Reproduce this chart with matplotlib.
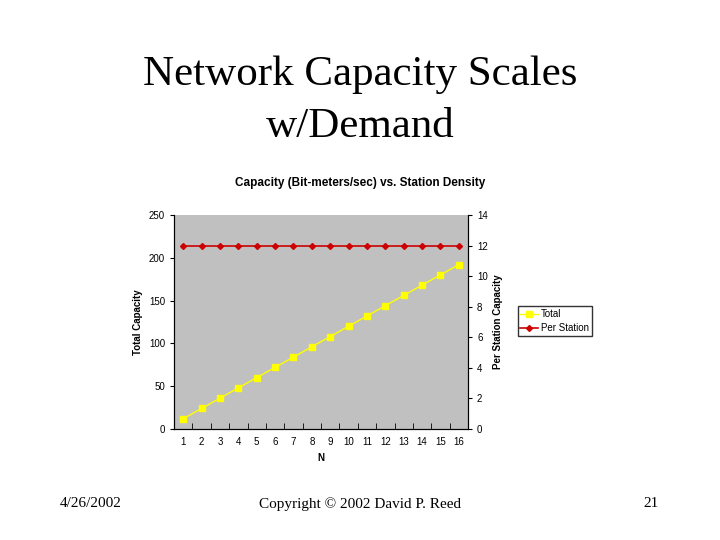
import matplotlib
matplotlib.use("Agg")
import matplotlib.pyplot as plt

N = list(range(1, 17))
total = [12, 24, 36, 48, 60, 72, 84, 96, 108, 120, 132, 144, 156, 168, 180, 192]
per_station = [12] * 16

fig = plt.figure(figsize=(7.2, 5.4), dpi=100)
fig.patch.set_facecolor("white")
fig.text(0.5, 0.862, "Network Capacity Scales", ha="center", va="center",
         family="Liberation Serif", fontsize=31)
fig.text(0.5, 0.766, "w/Demand", ha="center", va="center",
         family="Liberation Serif", fontsize=31)
fig.text(0.5, 0.662, "Capacity (Bit-meters/sec) vs. Station Density", ha="center",
         va="center", family="Liberation Sans", fontsize=8.5, fontweight="bold")

ax = fig.add_axes([0.2417, 0.2056, 0.4083, 0.3963])
ax.set_facecolor("#c0c0c0")
x = [i - 0.5 for i in N]
l1, = ax.plot(x, total, color="#ffff00", marker="s", markersize=4, lw=1, label="Total")
ax.set_xlim(0, 16)
ax.set_ylim(0, 250)
ax.set_yticks([0, 50, 100, 150, 200, 250])
ax.set_xticks(x)
ax.set_xticklabels([str(n) for n in N])
ax.set_xticks(range(0, 17), minor=True)
ax.tick_params(axis="x", which="major", length=0, labelsize=7, pad=6)
ax.tick_params(axis="x", which="minor", length=4, direction="in")
ax.tick_params(axis="y", labelsize=7, length=3)
ax.set_xlabel("N", fontsize=7, fontweight="bold", family="Liberation Sans")
ax.set_ylabel("Total Capacity", fontsize=7, fontweight="bold", family="Liberation Sans")
ax.spines["top"].set_visible(False)

ax2 = ax.twinx()
l2, = ax2.plot(x, per_station, color="#cc0000", marker="D", markersize=3, lw=1.2,
               label="Per Station")
ax2.set_ylim(0, 14)
ax2.set_yticks([0, 2, 4, 6, 8, 10, 12, 14])
ax2.tick_params(axis="y", labelsize=7, length=3)
ax2.set_ylabel("Per Station Capacity", fontsize=7, fontweight="bold", family="Liberation Sans")
ax2.spines["top"].set_visible(False)
for a in (ax, ax2):
    for lab in a.get_xticklabels() + a.get_yticklabels():
        lab.set_family("Liberation Sans")

leg = fig.legend([l1, l2], ["Total", "Per Station"], loc="center left",
                 bbox_to_anchor=(0.712, 0.405), frameon=True,
                 fancybox=False, edgecolor="black", borderpad=0.3,
                 handlelength=1.8, handletextpad=0.3, labelspacing=0.4,
                 prop={"family": "Liberation Sans", "size": 7})

fig.text(0.083, 0.067, "4/26/2002", family="Liberation Serif", fontsize=11, va="center")
fig.text(0.5, 0.067, "Copyright © 2002 David P. Reed", family="Liberation Serif",
         fontsize=11, ha="center", va="center")
fig.text(0.915, 0.067, "21", family="Liberation Serif", fontsize=11, ha="right", va="center")

fig.savefig("out.png", dpi=100)
